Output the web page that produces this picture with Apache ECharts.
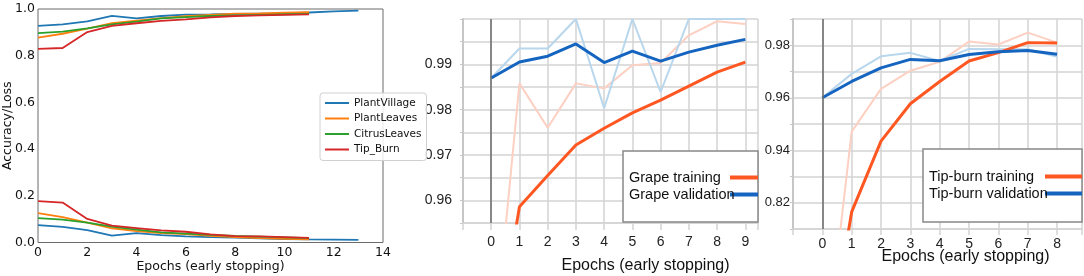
<!DOCTYPE html>
<html>
<head>
<meta charset="utf-8">
<script src="https://cdn.jsdelivr.net/npm/echarts@6/dist/echarts.min.js"></script>
<style>
html,body{margin:0;padding:0;background:#fff;}
#c{width:1084px;height:276px;}
</style>
</head>
<body>
<div id="c"></div>
<script>
// ---------- Panel 1: accuracy / loss per dataset ----------
const datasetNames = ['PlantVillage', 'PlantLeaves', 'CitrusLeaves', 'Tip_Burn'];
const plantVillageAcc  = [0.928, 0.934, 0.947, 0.971, 0.960, 0.970, 0.976, 0.977, 0.979, 0.980, 0.981, 0.985, 0.990, 0.993];
const plantVillageLoss = [0.074, 0.067, 0.053, 0.029, 0.040, 0.032, 0.026, 0.023, 0.021, 0.018, 0.015, 0.013, 0.012, 0.011];
const plantLeavesAcc   = [0.877, 0.894, 0.916, 0.939, 0.950, 0.961, 0.969, 0.975, 0.980, 0.981, 0.984, 0.986];
const plantLeavesLoss  = [0.126, 0.109, 0.085, 0.061, 0.049, 0.040, 0.036, 0.029, 0.023, 0.019, 0.016, 0.013];
const citrusLeavesAcc  = [0.897, 0.903, 0.917, 0.934, 0.946, 0.960, 0.965, 0.970, 0.973, 0.975, 0.977, 0.979];
const citrusLeavesLoss = [0.104, 0.098, 0.085, 0.068, 0.055, 0.043, 0.038, 0.033, 0.028, 0.025, 0.022, 0.019];
const tipBurnAcc       = [0.829, 0.833, 0.901, 0.928, 0.939, 0.949, 0.956, 0.964, 0.970, 0.973, 0.975, 0.977];
const tipBurnLoss      = [0.177, 0.171, 0.101, 0.072, 0.062, 0.052, 0.046, 0.035, 0.027, 0.026, 0.023, 0.020];

// ---------- Panel 2: Grape ----------
const grapeNames = ['Grape training', 'Grape validation'];
const grapeTrain    = [0.921, 0.9586, 0.9655, 0.9722, 0.9759, 0.9793, 0.9821, 0.9852, 0.9883, 0.9905];
const grapeTrainRaw = [0.921, 0.9858, 0.9760, 0.9858, 0.9847, 0.9898, 0.9903, 0.9964, 0.9995, 0.9989];
const grapeVal      = [0.9870, 0.9905, 0.9918, 0.9945, 0.9904, 0.9929, 0.9907, 0.9927, 0.9942, 0.9955];
const grapeValRaw   = [0.9870, 0.9935, 0.9935, 1.0000, 0.9803, 1.0000, 0.9839, 1.0000, 1.0000, 1.0000];
const grapeTickValues = [0.96, 0.97, 0.98, 0.99];

// ---------- Panel 3: Tip-burn ----------
const tipNames = ['Tip-burn training', 'Tip-burn validation'];
const tipTrain    = [0.850, 0.9165, 0.9435, 0.9577, 0.9662, 0.9740, 0.9772, 0.9810, 0.9809];
const tipTrainRaw = [0.850, 0.9471, 0.9634, 0.9703, 0.9737, 0.9814, 0.9803, 0.9848, 0.9810];
const tipVal      = [0.9600, 0.9662, 0.9714, 0.9746, 0.9741, 0.9765, 0.9775, 0.9780, 0.9766];
const tipValRaw   = [0.9600, 0.9691, 0.9758, 0.9771, 0.9740, 0.9786, 0.9785, 0.9785, 0.9756];
const tipTickValues = [0.92, 0.94, 0.96, 0.98];
const tipTickLabels = ['0.82', '0.94', '0.96', '0.98'];

const xName = 'Epochs (early stopping)';
const mplColors = ['#1f77b4', '#ff7f0e', '#2ca02c', '#d62728'];

const pairs = arr => arr.map((v, i) => [i, v]);

const chart = echarts.init(document.getElementById('c'), null, {renderer: 'canvas'});

const p1Acc = [plantVillageAcc, plantLeavesAcc, citrusLeavesAcc, tipBurnAcc];
const p1Loss = [plantVillageLoss, plantLeavesLoss, citrusLeavesLoss, tipBurnLoss];
const series = [];
datasetNames.forEach((n, k) => {
  [p1Acc[k], p1Loss[k]].forEach(arr => {
    series.push({
      name: n, type: 'line', xAxisIndex: 0, yAxisIndex: 0,
      data: pairs(arr), color: mplColors[k], showSymbol: false, symbol: 'none',
      lineStyle: {width: 1.8}, silent: true
    });
  });
});

const zeroLine = {
  silent: true, symbol: ['none', 'none'], label: {show: false},
  lineStyle: {color: '#6a6a6a', width: 1.5, type: 'solid'},
  data: [{xAxis: 0}], animation: false
};

function panelSeries(xi, names, train, trainRaw, val, valRaw) {
  return [
    {name: names[0] + ' raw', type: 'line', xAxisIndex: xi, yAxisIndex: xi, data: pairs(trainRaw),
     color: '#fcd0c2', showSymbol: false, symbol: 'none', lineStyle: {width: 2}, silent: true, markLine: zeroLine},
    {name: names[1] + ' raw', type: 'line', xAxisIndex: xi, yAxisIndex: xi, data: pairs(valRaw),
     color: '#b8d6ec', showSymbol: false, symbol: 'none', lineStyle: {width: 2}, silent: true},
    {name: names[0], type: 'line', xAxisIndex: xi, yAxisIndex: xi, data: pairs(train),
     color: '#ff5722', showSymbol: false, symbol: 'none', lineStyle: {width: 3}, silent: true},
    {name: names[1], type: 'line', xAxisIndex: xi, yAxisIndex: xi, data: pairs(val),
     color: '#1565c0', showSymbol: false, symbol: 'none', lineStyle: {width: 3}, silent: true}
  ];
}
series.push(...panelSeries(1, grapeNames, grapeTrain, grapeTrainRaw, grapeVal, grapeValRaw));
series.push(...panelSeries(2, tipNames, tipTrain, tipTrainRaw, tipVal, tipValRaw));

const grayLine = {color: '#d3d3d3', width: 1.5};
const intLabel = v => (v >= 0 && Math.abs(v - Math.round(v)) < 1e-6) ? String(Math.round(v)) : '';

const option = {
  animation: false,
  backgroundColor: '#fff',
  grid: [
    {left: 38, right: 701, top: 9, bottom: 33.5, show: true, borderColor: '#6b6b6b', borderWidth: 1, outerBoundsMode: 'none'},
    {left: 463, right: 326, top: 19, bottom: 53, outerBoundsMode: 'none'},
    {left: 793, right: 2, top: 19, bottom: 47, outerBoundsMode: 'none'}
  ],
  xAxis: [
    {gridIndex: 0, type: 'value', min: 0, max: 14, interval: 2,
     axisLine: {show: false}, axisTick: {show: false}, splitLine: {show: false},
     axisLabel: {fontFamily: 'DejaVu Sans', fontSize: 12.5, color: '#111', margin: 4},
     name: xName, nameLocation: 'middle', nameGap: 18, nameMoveOverlap: false,
     nameTextStyle: {fontFamily: 'DejaVu Sans', fontSize: 12.5, color: '#111'}},
    {gridIndex: 1, type: 'value', min: -1, max: 9.45, interval: 1,
     axisLine: {show: true, onZero: false, lineStyle: grayLine},
     axisTick: {show: true, length: 7, lineStyle: grayLine},
     splitLine: {show: true, lineStyle: grayLine},
     axisLabel: {formatter: intLabel, fontFamily: 'Liberation Sans', fontSize: 14, color: '#222', margin: 12},
     name: xName, nameLocation: 'middle', nameGap: 35, nameMoveOverlap: false,
     nameTextStyle: {fontFamily: 'Liberation Sans', fontSize: 16, color: '#111', padding: [0, 0, 0, 70]}},
    {gridIndex: 2, type: 'value', min: -1, max: 8.85, interval: 1,
     axisLine: {show: true, onZero: false, lineStyle: grayLine},
     axisTick: {show: true, length: 6, lineStyle: grayLine},
     splitLine: {show: true, lineStyle: grayLine},
     axisLabel: {formatter: intLabel, fontFamily: 'Liberation Sans', fontSize: 14, color: '#222', margin: 8},
     name: xName, nameLocation: 'middle', nameGap: 20, nameMoveOverlap: false,
     nameTextStyle: {fontFamily: 'Liberation Sans', fontSize: 16, color: '#111', padding: [0, 0, 0, 56]}}
  ],
  yAxis: [
    {gridIndex: 0, type: 'value', min: 0, max: 1, interval: 0.2,
     axisLine: {show: false, onZero: false}, axisTick: {show: false}, splitLine: {show: false},
     axisLabel: {formatter: v => v.toFixed(1), fontFamily: 'DejaVu Sans', fontSize: 12.5, color: '#111', margin: 3},
     name: 'Accuracy/Loss', nameLocation: 'middle', nameGap: 24, nameMoveOverlap: false,
     nameTextStyle: {fontFamily: 'DejaVu Sans', fontSize: 12.5, color: '#111'}},
    {gridIndex: 1, type: 'value', min: 0.955, max: 1.0, interval: 0.005,
     axisLine: {show: true, onZero: false, lineStyle: {color: '#c6c6c6', width: 2}},
     axisTick: {show: true, length: 3, lineStyle: {color: '#c6c6c6'}},
     splitLine: {show: true, lineStyle: grayLine},
     axisLabel: {formatter: v => grapeTickValues.some(t => Math.abs(t - v) < 1e-6) ? v.toFixed(2) : '',
                 fontFamily: 'Liberation Sans', fontSize: 14, color: '#222', margin: 11}},
    {gridIndex: 2, type: 'value', min: 0.91, max: 0.99, interval: 0.01,
     axisLine: {show: true, onZero: false, lineStyle: {color: '#c6c6c6', width: 2}},
     axisTick: {show: true, length: 3, lineStyle: {color: '#c6c6c6'}},
     splitLine: {show: true, lineStyle: grayLine},
     axisLabel: {formatter: v => { const i = tipTickValues.findIndex(t => Math.abs(t - v) < 1e-6); return i >= 0 ? tipTickLabels[i] : ''; },
                 fontFamily: 'Liberation Sans', fontSize: 13, color: '#222', margin: 3}}
  ],
  legend: [
    {data: datasetNames, orient: 'vertical', left: 320, top: 93, icon: 'rect', itemWidth: 24, itemHeight: 2,
     itemGap: 3.5, padding: [4, 5, 5, 5], backgroundColor: 'rgba(255,255,255,0.85)',
     borderColor: '#d0d0d0', borderWidth: 1, borderRadius: 3, selectedMode: false,
     textStyle: {fontFamily: 'DejaVu Sans', fontSize: 10.5, color: '#111', lineHeight: 12}},
    {data: grapeNames, orient: 'vertical', left: 623, top: 151, icon: 'rect', align: 'right',
     itemWidth: 28, itemHeight: 4, itemGap: 0, padding: [18, 0, 19, 6], backgroundColor: '#fff',
     borderColor: '#888', borderWidth: 1.5, selectedMode: false,
     formatter: '{a|{name}}',
     textStyle: {fontFamily: 'Liberation Sans', fontSize: 14, color: '#111', lineHeight: 17,
                 rich: {a: {width: 96, align: 'left', fontFamily: 'Liberation Sans', fontSize: 14.5, color: '#111', lineHeight: 17}}}},
    {data: tipNames, orient: 'vertical', left: 923, top: 149, icon: 'rect', align: 'right',
     itemWidth: 37, itemHeight: 4, itemGap: 0, padding: [19, 0, 20, 6], backgroundColor: '#fff',
     borderColor: '#888', borderWidth: 1.5, selectedMode: false,
     formatter: '{a|{name}}',
     textStyle: {fontFamily: 'Liberation Sans', fontSize: 14, color: '#111', lineHeight: 17,
                 rich: {a: {width: 111, align: 'left', fontFamily: 'Liberation Sans', fontSize: 14.5, color: '#111', lineHeight: 17}}}}
  ],
  series: series
};
chart.setOption(option);
</script>
</body>
</html>
